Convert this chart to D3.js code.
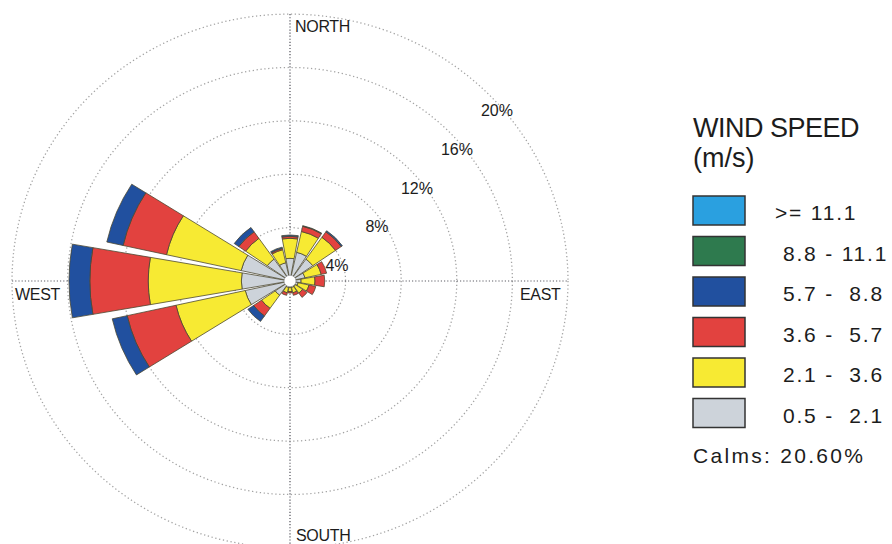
<!DOCTYPE html>
<html>
<head>
<meta charset="utf-8">
<script src="https://cdn.jsdelivr.net/npm/d3@7"></script>
<style>
  body { margin: 0; background: #fff; }
  text { font-family: Arial, "Liberation Sans", sans-serif; fill: #1c1c1c; white-space: pre; }
</style>
</head>
<body>
<div id="rosa"></div>
<script>
// Direcciones de la rosa (sentido horario desde el norte)
const direcciones = ["N", "NNE", "NE", "ENE", "E", "ESE", "SE", "SSE", "S", "SSW", "SW", "WSW", "W", "WNW", "NW", "NNW"];

// Clases de velocidad (de menor a mayor) y sus colores
const clasesVelocidad = ["0.5 - 2.1", "2.1 - 3.6", "3.6 - 5.7", "5.7 - 8.8", "8.8 - 11.1", ">= 11.1"];
const coloresClase = ["#cdd3da", "#f7ea33", "#e2423f", "#21509f", "#2e7a4e", "#2aa0e0"];

// Frecuencia (%) por direccion para cada clase de velocidad
const frec05a21 = [1.7, 2.2, 2.0, 1.1, 0.8, 0.6, 0.5, 0.5, 0.5, 0.5, 1.3, 3.3, 3.5, 3.6, 2.0, 1.4];
const frec21a36 = [1.5, 1.6, 2.0, 1.2, 1.0, 0.8, 0.6, 0.4, 0.3, 0.4, 1.2, 5.1, 6.7, 5.5, 1.9, 1.0];
const frec36a57 = [0.15, 0.4, 0.5, 0.4, 0.7, 0.5, 0.4, 0.2, 0.1, 0.2, 0.7, 3.6, 4.2, 3.2, 0.6, 0.1];
const frec57a88 = [0.1, 0.05, 0.1, 0, 0, 0, 0, 0, 0, 0, 0.5, 1.1, 1.5, 1.2, 0.4, 0.1];
const frec88a111 = [0, 0, 0, 0, 0, 0, 0, 0, 0, 0, 0, 0, 0, 0, 0, 0];
const frecMas111 = [0, 0, 0, 0, 0, 0, 0, 0, 0, 0, 0, 0, 0, 0, 0, 0];

// Anillos, puntos cardinales y textos de la leyenda
const anillos = [4, 8, 12, 16, 20];
const puntosCardinales = ["NORTH", "EAST", "SOUTH", "WEST"];
const etiquetasLeyenda = [">= 11.1", "8.8 - 11.1", "5.7 -  8.8", "3.6 -  5.7", "2.1 -  3.6", "0.5 -  2.1"];
const tituloLeyenda = ["WIND SPEED", "(m/s)"];
const textoCalmas = "Calms: 20.60%";

const series = [frec05a21, frec21a36, frec36a57, frec57a88, frec88a111, frecMas111];

const ancho = 892;
const alto = 544;
const centroX = 290;
const centroY = 281;
const achatado = 0.96; // el original esta un poco aplastado en vertical

const svg = d3.select("#rosa")
  .append("svg")
  .attr("width", ancho)
  .attr("height", alto);

const radio = d3.scaleLinear().domain([0, 20]).range([0, 278]);
const angulo = d3.scaleLinear().domain([0, direcciones.length]).range([0, 2 * Math.PI]);
const medioPetalo = (10 * Math.PI) / 180;

const rosa = svg.append("g")
  .attr("transform", `translate(${centroX},${centroY}) scale(1,${achatado})`);

// Anillos punteados
rosa.selectAll("circle.anillo")
  .data(anillos)
  .enter()
  .append("circle")
  .attr("class", "anillo")
  .attr("r", d => radio(d))
  .attr("fill", "none")
  .attr("stroke", "#a3a3a3")
  .attr("stroke-width", 1.3)
  .attr("stroke-dasharray", "1.3,2.6");

// Ejes norte-sur y este-oeste
const rMax = radio(20);
rosa.append("line")
  .attr("x1", 0).attr("y1", -rMax).attr("x2", 0).attr("y2", rMax)
  .attr("stroke", "#5e5e66").attr("stroke-width", 1.3).attr("stroke-dasharray", "1.2,2");
rosa.append("line")
  .attr("x1", -rMax).attr("y1", 0).attr("x2", rMax).attr("y2", 0)
  .attr("stroke", "#5e5e66").attr("stroke-width", 1.3).attr("stroke-dasharray", "1.2,2");

// Petalos: cada clase se apila sobre la anterior
const arco = d3.arc();
direcciones.forEach((dir, i) => {
  let acumulado = 0;
  series.forEach((serie, k) => {
    const valor = serie[i];
    if (valor <= 0) {
      return;
    }
    rosa.append("path")
      .attr("d", arco({
        innerRadius: radio(acumulado),
        outerRadius: radio(acumulado + valor),
        startAngle: angulo(i) - medioPetalo,
        endAngle: angulo(i) + medioPetalo
      }))
      .attr("fill", coloresClase[k])
      .attr("stroke", "#4a4630")
      .attr("stroke-width", 0.8);
    acumulado += valor;
  });
});

// Circulo central de calmas
rosa.append("circle")
  .attr("r", 6)
  .attr("fill", "#fff")
  .attr("stroke", "#999")
  .attr("stroke-width", 0.8);

// Etiquetas de los anillos
const angEtiqueta = (44 * Math.PI) / 180;
svg.selectAll("text.anillo")
  .data(anillos)
  .enter()
  .append("text")
  .attr("class", "anillo")
  .attr("x", d => centroX + 7 + radio(d) * Math.cos(angEtiqueta))
  .attr("y", d => centroY + 23 + 5.5 - radio(d) * Math.sin(angEtiqueta))
  .attr("text-anchor", "middle")
  .attr("font-size", 16)
  .text(d => d + "%");

// Puntos cardinales
const posCardinal = {
  NORTH: [centroX + 5, 32],
  EAST: [520, 300],
  SOUTH: [centroX + 6, 541],
  WEST: [15, 300]
};
puntosCardinales.forEach((nombre) => {
  svg.append("text")
    .attr("x", posCardinal[nombre][0])
    .attr("y", posCardinal[nombre][1])
    .attr("font-size", 16)
    .attr("letter-spacing", -0.3)
    .text(nombre);
});

// Leyenda
const leyendaX = 693;
svg.append("text")
  .attr("x", leyendaX)
  .attr("y", 137)
  .attr("font-size", 27)
  .attr("letter-spacing", -0.5)
  .text(tituloLeyenda[0]);
svg.append("text")
  .attr("x", leyendaX)
  .attr("y", 167)
  .attr("font-size", 27)
  .text(tituloLeyenda[1]);

const coloresLeyenda = coloresClase.slice().reverse();
etiquetasLeyenda.forEach((etiqueta, k) => {
  const y = 196 + k * 40.5;
  svg.append("rect")
    .attr("x", leyendaX)
    .attr("y", y)
    .attr("width", 52)
    .attr("height", 29)
    .attr("fill", coloresLeyenda[k])
    .attr("stroke", "#333")
    .attr("stroke-width", 1.5);
  svg.append("text")
    .attr("x", k === 0 ? 775 : 783)
    .attr("y", y + 24)
    .attr("font-size", 21)
    .attr("letter-spacing", 1.8)
    .text(etiqueta);
});

svg.append("text")
  .attr("x", leyendaX)
  .attr("y", 463)
  .attr("font-size", 21)
  .attr("letter-spacing", 2.3)
  .text(textoCalmas);
</script>
</body>
</html>
